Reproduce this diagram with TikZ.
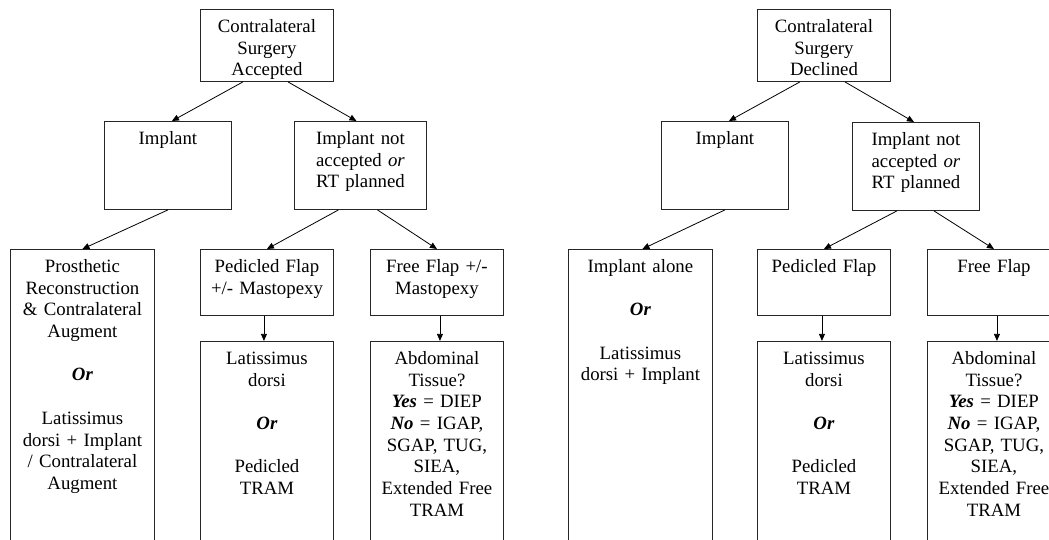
\documentclass[tikz,border=0pt]{standalone}
\usepackage{fontspec}
\setmainfont{Liberation Serif}
\usetikzlibrary{arrows.meta,positioning}

\begin{document}
\begin{tikzpicture}[x=1pt,y=-1pt,
    box/.style={draw=black!85,line width=0.9pt,anchor=north west,inner sep=0pt,
      align=center,text height=23pt,font=\fontsize{18.8}{21.7}\selectfont},
    arr/.style={-{Triangle[length=7pt,width=6pt]},line width=0.8pt}]
  \clip (0,0) rectangle (1049,540);
  % surgery accepted
  \node[box,text width=133pt,text depth=49pt] (accA) at (200,9) {Contralateral\\Surgery\\Accepted};
  \node[box,text width=127pt,text depth=65pt] (impA) at (104,121) {Implant};
  \node[box,text width=132pt,text depth=65pt] (notA) at (294,121) {Implant not\\accepted \textit{or}\\RT planned};
  \node[box,text width=144pt,text depth=280pt] (prosA) at (10,249)
    {Prosthetic\\Reconstruction\\\& Contralateral\\Augment\\[21.7pt]\textbf{\textit{Or}}\\[21.7pt]Latissimus\\dorsi + Implant\\/ Contralateral\\Augment};
  \node[box,text width=133pt,text depth=43pt] (pedA) at (200,249) {Pedicled Flap\\+/- Mastopexy};
  \node[box,text width=133pt,text depth=43pt] (freeA) at (370,249) {Free Flap +/-\\Mastopexy};
  \node[box,text width=133pt,text depth=197pt,below=25pt of pedA] (latA)
    {Latissimus\\dorsi\\[21.7pt]\textbf{\textit{Or}}\\[21.7pt]Pedicled\\TRAM};
  \node[box,text width=133pt,text depth=197pt,below=25pt of freeA] (abdA)
    {Abdominal\\Tissue?\\\textbf{\textit{Yes}} = DIEP\\\textbf{\textit{No}} = IGAP,\\SGAP, TUG,\\SIEA,\\Extended Free\\TRAM};
  \draw[arr] ([xshift=-24pt]accA.south) -- ([xshift=4pt]impA.north);
  \draw[arr] ([xshift=21pt]accA.south) -- ([xshift=-4pt]notA.north);
  \draw[arr] (impA.south) -- (prosA.north);
  \draw[arr] ([xshift=-22pt]notA.south) -- (pedA.north);
  \draw[arr] ([xshift=17pt]notA.south) -- (freeA.north);
  \draw[arr] ([xshift=-3pt]pedA.south) -- ([xshift=-3pt]latA.north);
  \draw[arr] ([xshift=3pt]freeA.south) -- ([xshift=3pt]abdA.north);
  % surgery declined
  \node[box,text width=133pt,text depth=49pt] (accB) at (757,9) {Contralateral\\Surgery\\Declined};
  \node[box,text width=127pt,text depth=65pt] (impB) at (661,121) {Implant};
  \node[box,text width=127pt,text depth=65pt] (notB) at (852,122) {Implant not\\accepted \textit{or}\\RT planned};
  \node[box,text width=144pt,text depth=280pt] (aloneB) at (568,249)
    {Implant alone\\[21.7pt]\textbf{\textit{Or}}\\[21.7pt]Latissimus\\dorsi + Implant};
  \node[box,text width=133pt,text depth=43pt] (pedB) at (757,249) {Pedicled Flap};
  \node[box,text width=133pt,text depth=43pt] (freeB) at (927,249) {Free Flap};
  \node[box,text width=133pt,text depth=197pt,below=25pt of pedB] (latB)
    {Latissimus\\dorsi\\[21.7pt]\textbf{\textit{Or}}\\[21.7pt]Pedicled\\TRAM};
  \node[box,text width=133pt,text depth=197pt,below=25pt of freeB] (abdB)
    {Abdominal\\Tissue?\\\textbf{\textit{Yes}} = DIEP\\\textbf{\textit{No}} = IGAP,\\SGAP, TUG,\\SIEA,\\Extended Free\\TRAM};
  \draw[arr] ([xshift=-24pt]accB.south) -- ([xshift=4pt]impB.north);
  \draw[arr] ([xshift=21pt]accB.south) -- ([xshift=-2pt]notB.north);
  \draw[arr] (impB.south) -- ([xshift=2pt]aloneB.north);
  \draw[arr] ([xshift=-19pt]notB.south) -- (pedB.north);
  \draw[arr] ([xshift=18pt]notB.south) -- (freeB.north);
  \draw[arr] ([xshift=-2pt]pedB.south) -- ([xshift=-2pt]latB.north);
  \draw[arr] ([xshift=3pt]freeB.south) -- ([xshift=3pt]abdB.north);
\end{tikzpicture}
\end{document}
